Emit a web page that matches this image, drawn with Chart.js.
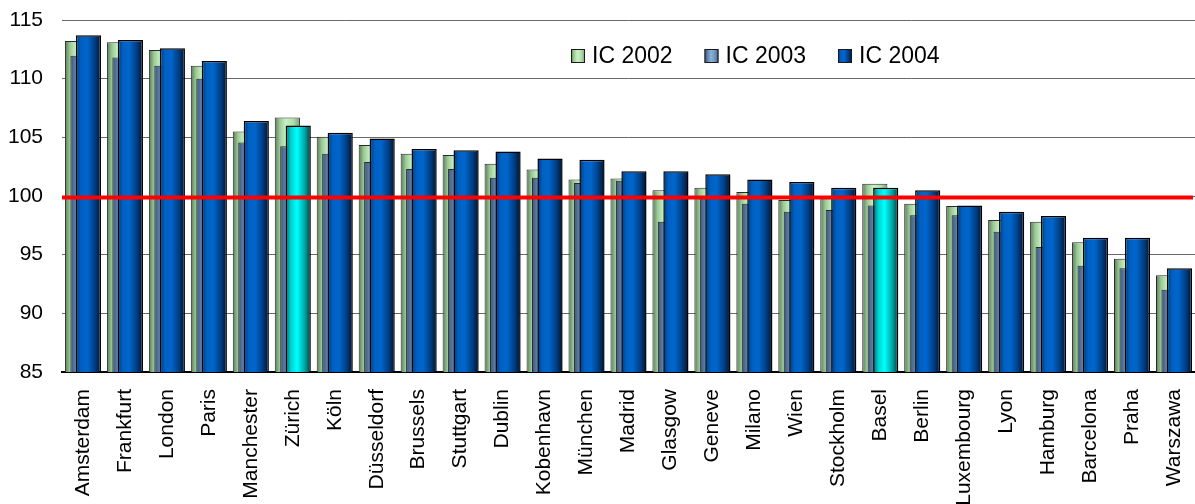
<!DOCTYPE html>
<html>
<head>
<meta charset="utf-8">
<title>IC 2002 - 2004</title>
<script src="https://cdn.jsdelivr.net/npm/chart.js@4.4.1/dist/chart.umd.min.js"></script>
<style>
  body { margin: 0; background: #fff; }
  #wrap { width: 1195px; height: 504px; }
</style>
</head>
<body>
<div id="wrap"><canvas id="myChart"></canvas></div>
<script>
//DATI

var cities = ["Amsterdam", "Frankfurt", "London", "Paris", "Manchester", "Zürich", "Köln",
  "Düsseldorf", "Brussels", "Stuttgart", "Dublin", "Kobenhavn", "München", "Madrid", "Glasgow",
  "Geneve", "Milano", "Wien", "Stockholm", "Basel", "Berlin", "Luxembourg", "Lyon", "Hamburg",
  "Barcelona", "Praha", "Warszawa"];

var ic2002 = [113.2, 113.1, 112.45, 111.1, 105.5, 106.7, 105.05, 104.35, 103.6, 103.5, 102.75,
  102.25, 101.4, 101.5, 100.5, 100.7, 100.35, 99.65, 99.95, 101.05, 99.35, 99.15, 97.95, 97.8,
  96.05, 94.65, 93.25];

var ic2003 = [111.95, 111.8, 111.1, 110.0, 104.55, 104.25, 103.6, 102.9, 102.3, 102.3, 101.55,
  101.55, 101.1, 101.3, 97.8, 99.9, 99.35, 98.65, 98.8, 99.2, 98.35, 98.35, 96.95, 95.65,
  94.05, 93.85, 92.0];

var ic2004 = [113.7, 113.3, 112.6, 111.5, 106.4, 106.0, 105.4, 104.9, 104.0, 103.9, 103.8,
  103.2, 103.1, 102.1, 102.1, 101.85, 101.4, 101.2, 100.7, 100.7, 100.5, 99.2, 98.65, 98.3,
  96.45, 96.45, 93.85];

var seriesNames = ["IC 2002", "IC 2003", "IC 2004"];
var yTicks = [85, 90, 95, 100, 105, 110, 115];
var highlighted = ["Zürich", "Basel"];
var referenceLevel = 100;

//STILE

var font = "'Liberation Sans', Arial, sans-serif";
var barShift = 0.13; // spostamento delle barre dentro la categoria
var barRatio = 0.6;
var gradientStops = [0, 0.2, 0.45, 0.75, 1];
var gradients = [
  ["#587858", "#9cc896", "#c8f2c2", "#b0dcaa", "#789a74"],
  ["#3a5478", "#5f7ea6", "#8cb2dc", "#7094bc", "#3c5a80"],
  ["#003a7a", "#0060c2", "#0066cc", "#003e84", "#00122c"],
];
var gradientHi = ["#006666", "#00d0d0", "#00ffff", "#00a8a8", "#003c3c"];

function makeGradient(c, x0, x1, colors) {
  let g = c.createLinearGradient(x0, 0, x1, 0);
  gradientStops.forEach(function (s, i) {
    g.addColorStop(s, colors[i]);
  });
  return g;
}

function barColor(serie) {
  return function (ctx) {
    let chart = ctx.chart;
    let scale = chart.scales["x" + serie];
    let colors = gradients[serie];
    if (serie === 2 && highlighted.includes(cities[ctx.dataIndex])) colors = gradientHi;
    if (!scale || !chart.chartArea || ctx.dataIndex === undefined) return colors[2];
    let center = scale.getPixelForValue(ctx.dataIndex);
    let half = ((scale.getPixelForValue(1) - scale.getPixelForValue(0)) * barRatio) / 2;
    return makeGradient(chart.ctx, center - half, center + half, colors);
  };
}

function hiddenAxis(serie) {
  let shift = (serie - 1) * barShift;
  return {
    type: "linear",
    display: false,
    offset: false,
    bounds: "data",
    min: -0.5 - shift,
    max: cities.length - 0.5 - shift,
    ticks: { stepSize: 1 },
  };
}

//LINEA ROSSA A 100
const refLine = {
  id: "refLine",
  afterDatasetsDraw(chart) {
    let c = chart.ctx;
    let area = chart.chartArea;
    let y = chart.scales.y.getPixelForValue(referenceLevel) + 1.5;
    c.save();
    c.strokeStyle = "#ff0000";
    c.lineWidth = 4;
    c.beginPath();
    c.moveTo(area.left, y);
    c.lineTo(area.right - 2, y);
    c.stroke();
    c.restore();
  },
};

//LEGENDA DENTRO IL GRAFICO
const legendInside = {
  id: "legendInside",
  afterDraw(chart, args, opts) {
    let c = chart.ctx;
    let x = opts.x;
    c.save();
    c.font = "23px " + font;
    c.textBaseline = "middle";
    chart.data.datasets.forEach(function (ds, i) {
      c.fillStyle = makeGradient(c, x, x + 14, gradients[i]);
      c.fillRect(x, opts.y - 7, 14, 14);
      c.strokeStyle = "#1a1a1a";
      c.lineWidth = 1;
      c.strokeRect(x + 0.5, opts.y - 6.5, 13, 13);
      c.fillStyle = "#000";
      c.fillText(ds.label, x + 21, opts.y + 1);
      x += opts.step;
    });
    c.restore();
  },
};

new Chart("myChart", {
  type: "bar",
  data: {
    labels: cities,
    datasets: [ic2002, ic2003, ic2004].map(function (serie, s) {
      return {
        label: seriesNames[s],
        data: serie.map(function (v, i) {
          return { x: i, y: v };
        }),
        xAxisID: "x" + s,
        order: 3 - s,
        grouped: false,
        backgroundColor: barColor(s),
        borderColor: s === 2 ? "#000" : "#2a2a2a",
        borderWidth: s === 2 ? 1.5 : 1,
        borderSkipped: false,
        categoryPercentage: 1,
        barPercentage: barRatio,
      };
    }),
  },
  options: {
    responsive: true,
    maintainAspectRatio: false,
    animation: false,
    layout: { padding: { top: 20, right: 0, left: 0, bottom: 0 } },
    plugins: {
      legend: { display: false },
      tooltip: { enabled: false },
      legendInside: { x: 571, y: 56, step: 133.5 },
    },
    scales: {
      x: {
        type: "category",
        offset: true,
        grid: { display: false, drawTicks: false },
        border: { display: true, color: "#000", width: 2 },
        ticks: {
          autoSkip: false,
          maxRotation: 90,
          minRotation: 90,
          padding: 17,
          color: "#000",
          font: { family: font, size: 21 },
        },
        afterFit: function (scale) {
          scale.height = 132;
          scale.paddingLeft = 0;
          scale.paddingRight = 0;
        },
      },
      x0: hiddenAxis(0),
      x1: hiddenAxis(1),
      x2: hiddenAxis(2),
      y: {
        min: yTicks[0],
        max: yTicks[yTicks.length - 1],
        grid: { color: "#6a6a6a", drawTicks: false },
        border: { display: false },
        ticks: {
          stepSize: yTicks[1] - yTicks[0],
          padding: 19,
          color: "#000",
          font: { family: font, size: 21 },
        },
        afterFit: function (scale) {
          scale.width = 62;
          scale.paddingTop = 0;
          scale.paddingBottom = 0;
        },
      },
    },
  },
  plugins: [refLine, legendInside],
});
</script>
</body>
</html>
